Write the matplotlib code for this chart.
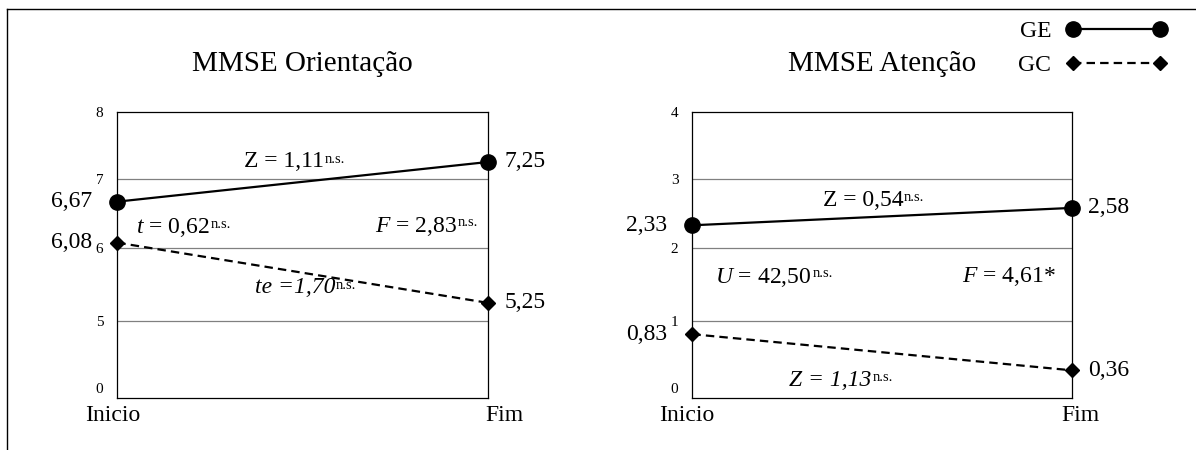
import numpy as np
import matplotlib
matplotlib.use("Agg")
import matplotlib.pyplot as plt
from matplotlib.lines import Line2D
from matplotlib.transforms import ScaledTranslation

plt.rcParams['font.family'] = ['Liberation Serif', 'DejaVu Serif']
plt.rcParams['mathtext.fontset'] = 'custom'
plt.rcParams['mathtext.rm'] = 'Liberation Serif'
plt.rcParams['mathtext.it'] = 'Liberation Serif:italic'

moments = ['Inicio', 'Fim']
groups = ['GE', 'GC']

orient_title = 'MMSE Orientação'
orient_ticks = [0, 5, 6, 7, 8]
orient_ge = [6.67, 7.25]
orient_gc = [6.08, 5.25]

atenc_title = 'MMSE Atenção'
atenc_ticks = [0, 1, 2, 3, 4]
atenc_ge = [2.33, 2.58]
atenc_gc = [0.83, 0.36]

# text, superscript, x, y (axes fraction), alignment, italic
orient_stats = [
    ('Z = 1,11', 'n.s.', 0.450, 0.825, 'center', False),
    (r'$\mathit{t}$ = 0,62', 'n.s.', 0.050, 0.595, 'left', False),
    (r'$\mathit{F}$ = 2,83', 'n.s.', 0.915, 0.600, 'right', False),
    ('te =1,70', 'n.s.', 0.370, 0.385, 'left', True),
]
atenc_stats = [
    ('Z = 0,54', 'n.s.', 0.450, 0.690, 'center', False),
    (r'$\mathit{U}$ = 42,50', 'n.s.', 0.060, 0.422, 'left', False),
    (r'$\mathit{F}$ = 4,61*', '', 0.957, 0.425, 'right', False),
    ('Z = 1,13', 'n.s.', 0.256, 0.062, 'left', True),
]

# vertical placement of the five tick rows inside each box
ROW_FRAC = [0.0, 0.2684, 0.5231, 0.7659, 1.0]

fig = plt.figure(figsize=(11.96, 4.5), dpi=100)


def px(dx, dy=0.0):
    return ScaledTranslation(dx / 100, dy / 100, fig.dpi_scale_trans)


def fmt(v):
    return f'{v:.2f}'.replace('.', ',')


def draw_panel(rect, title, ticks, ge, gc, stats, xshift):
    ax = fig.add_axes(rect)
    fwd = lambda v: np.interp(v, ticks, ROW_FRAC)
    inv = lambda p: np.interp(p, ROW_FRAC, ticks)
    ax.set_yscale('function', functions=(fwd, inv))
    ax.set_ylim(ticks[0], ticks[-1])
    ax.set_xlim(0, 1)
    ax.set_yticks(ticks)
    ax.set_yticklabels([str(t) for t in ticks])
    ax.set_xticks([0, 1])
    ax.set_xticklabels(moments)
    ax.tick_params(axis='y', length=0, pad=10, labelsize=11)
    ax.tick_params(axis='x', length=0, pad=5, labelsize=17)
    for lab, dx in zip(ax.get_xticklabels(), xshift):
        lab.set_transform(lab.get_transform() + px(dx))
    zero = ax.get_yticklabels()[0]
    zero.set_transform(zero.get_transform() + px(0, 10))
    for s in ax.spines.values():
        s.set_linewidth(0.9)
    for t in ticks[1:-1]:
        ax.axhline(t, color='#808080', lw=0.9, zorder=1)

    x = [0, 1]
    l1, = ax.plot(x, ge, color='black', lw=1.6, marker='o', ms=11,
                  clip_on=False, zorder=3, label=groups[0])
    l2, = ax.plot(x, gc, color='black', lw=1.6, ls=(0, (3.8, 2.3)),
                  marker='D', ms=7.5, clip_on=False, zorder=3,
                  label=groups[1])

    for vals in (ge, gc):
        ax.annotate(fmt(vals[0]), (0, vals[0]), xytext=(-18, 0),
                    textcoords='offset points', ha='right', va='center',
                    fontsize=17)
        ax.annotate(fmt(vals[1]), (1, vals[1]), xytext=(12, 0),
                    textcoords='offset points', ha='left', va='center',
                    fontsize=17)

    # statistic + small raised "n.s." hung on the right of it
    for txt, sup, tx, ty, ha, it in stats:
        t = ax.text(tx, ty, txt, transform=ax.transAxes, ha=ha, va='center',
                    fontsize=17, style='italic' if it else 'normal')
        if sup:
            ax.annotate(sup, xy=(1, 0.93), xycoords=t, xytext=(0.5, 0),
                        textcoords='offset points', ha='left', va='top',
                        fontsize=10.5)

    ax.text(0.5, 1.168, title, transform=ax.transAxes, ha='center',
            va='center', fontsize=21)
    return ax, (l1, l2)


draw_panel([0.0981, 0.1156, 0.3102, 0.6362], orient_title, orient_ticks,
           orient_ge, orient_gc, orient_stats, (-5, 16))
ax2, handles = draw_panel([0.5789, 0.1156, 0.3172, 0.6362], atenc_title,
                          atenc_ticks, atenc_ge, atenc_gc, atenc_stats, (-6, 9))

fig.legend(handles, groups, loc='upper right', bbox_to_anchor=(0.9758, 0.955),
           frameon=False, markerfirst=False, numpoints=2, handlelength=4.3,
           handletextpad=0.6, labelspacing=0.55, borderpad=0, borderaxespad=0,
           fontsize=17)

# outer frame: top and left edges
top = 1 - 9.3 / 450
left = 7.3 / 1196
fig.add_artist(Line2D([left, 1], [top, top], color='black', lw=1,
                      transform=fig.transFigure))
fig.add_artist(Line2D([left, left], [0, top], color='black', lw=1,
                      transform=fig.transFigure))

fig.savefig('out.png', dpi=100)
